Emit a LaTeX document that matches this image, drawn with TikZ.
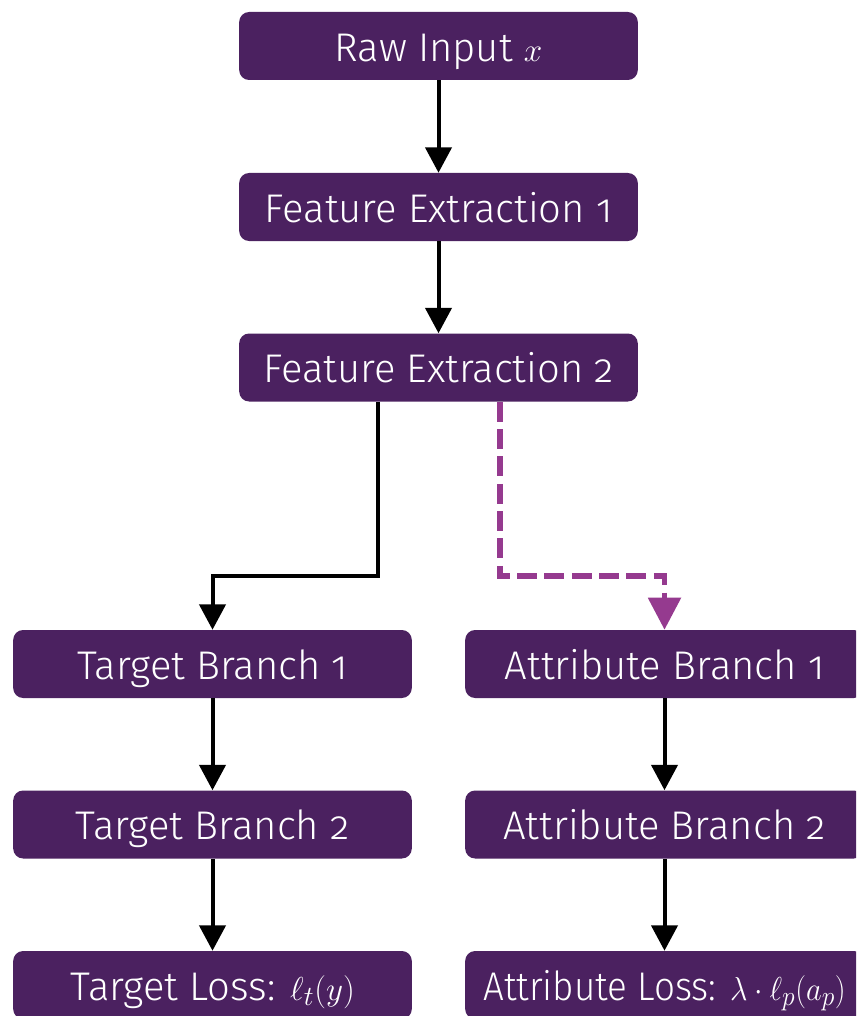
\documentclass[tikz,border=0pt]{standalone}
\usepackage{fontspec}
\IfFontExistsTF{Fira Sans Light}
  {\setmainfont{Fira Sans Light}[Numbers=OldStyle]}
  {\setmainfont{Carlito}[Numbers=OldStyle,Ligatures=NoCommon]}
\usetikzlibrary{arrows.meta}
\definecolor{boxpurple}{HTML}{4B2160}
\definecolor{dashpurple}{HTML}{953A8F}
\tikzset{
  stage/.style={draw=none, fill=boxpurple, rounded corners=7.5pt, text=white,
    minimum width=299pt, minimum height=51pt, inner sep=0pt,
    text height=26pt, text depth=3.4pt,
    font=\fontsize{30}{35}\selectfont},
  flow/.style={line width=3pt, -{Triangle[width=19.5pt,length=19pt]}},
  attrflow/.style={line width=4pt, draw=dashpurple, dash pattern=on 15pt off 5.5pt,
    -{Triangle[width=24pt,length=24pt,fill=dashpurple]}},
}
\begin{document}
\begin{tikzpicture}[x=0.75pt,y=-0.75pt]
  \useasboundingbox (0,0) rectangle (856,1016);
  \clip (0,0) rectangle (856,1016);
  % main trunk
  \node[stage] (raw) at (438.5,46) {Raw Input $x$};
  \node[stage] (fe1) at (438.5,207) {Feature Extraction 1};
  \node[stage] (fe2) at (438.5,367.5) {Feature Extraction 2};
  % target branch
  \node[stage] (tb1) at (212.5,664) {Target Branch 1};
  \node[stage] (tb2) at (212.5,824.5) {Target Branch 2};
  \node[stage] (tl) at (212.5,985) {Target Loss: $\ell_t(y)$};
  % attribute branch
  \node[stage] (ab1) at (664.5,664) {Attribute Branch 1};
  \node[stage] (ab2) at (664.5,824.5) {Attribute Branch 2};
  \node[stage] (al) at (664.5,985) {\scalebox{0.92}[1]{Attribute Loss: $\lambda\cdot\ell_p(a_p)$}};
  % connectors
  \draw[flow] (raw.south) -- (fe1.north);
  \draw[flow] (fe1.south) -- (fe2.north);
  \draw[flow] (fe2.south -| 378,0) |- (0,576 -| tb1.north) -- (tb1.north);
  \draw[attrflow] (fe2.south -| 500,0) |- (0,576 -| ab1.north) -- (ab1.north);
  \draw[flow] (tb1.south) -- (tb2.north);
  \draw[flow] (tb2.south) -- (tl.north);
  \draw[flow] (ab1.south) -- (ab2.north);
  \draw[flow] (ab2.south) -- (al.north);
\end{tikzpicture}
\end{document}
